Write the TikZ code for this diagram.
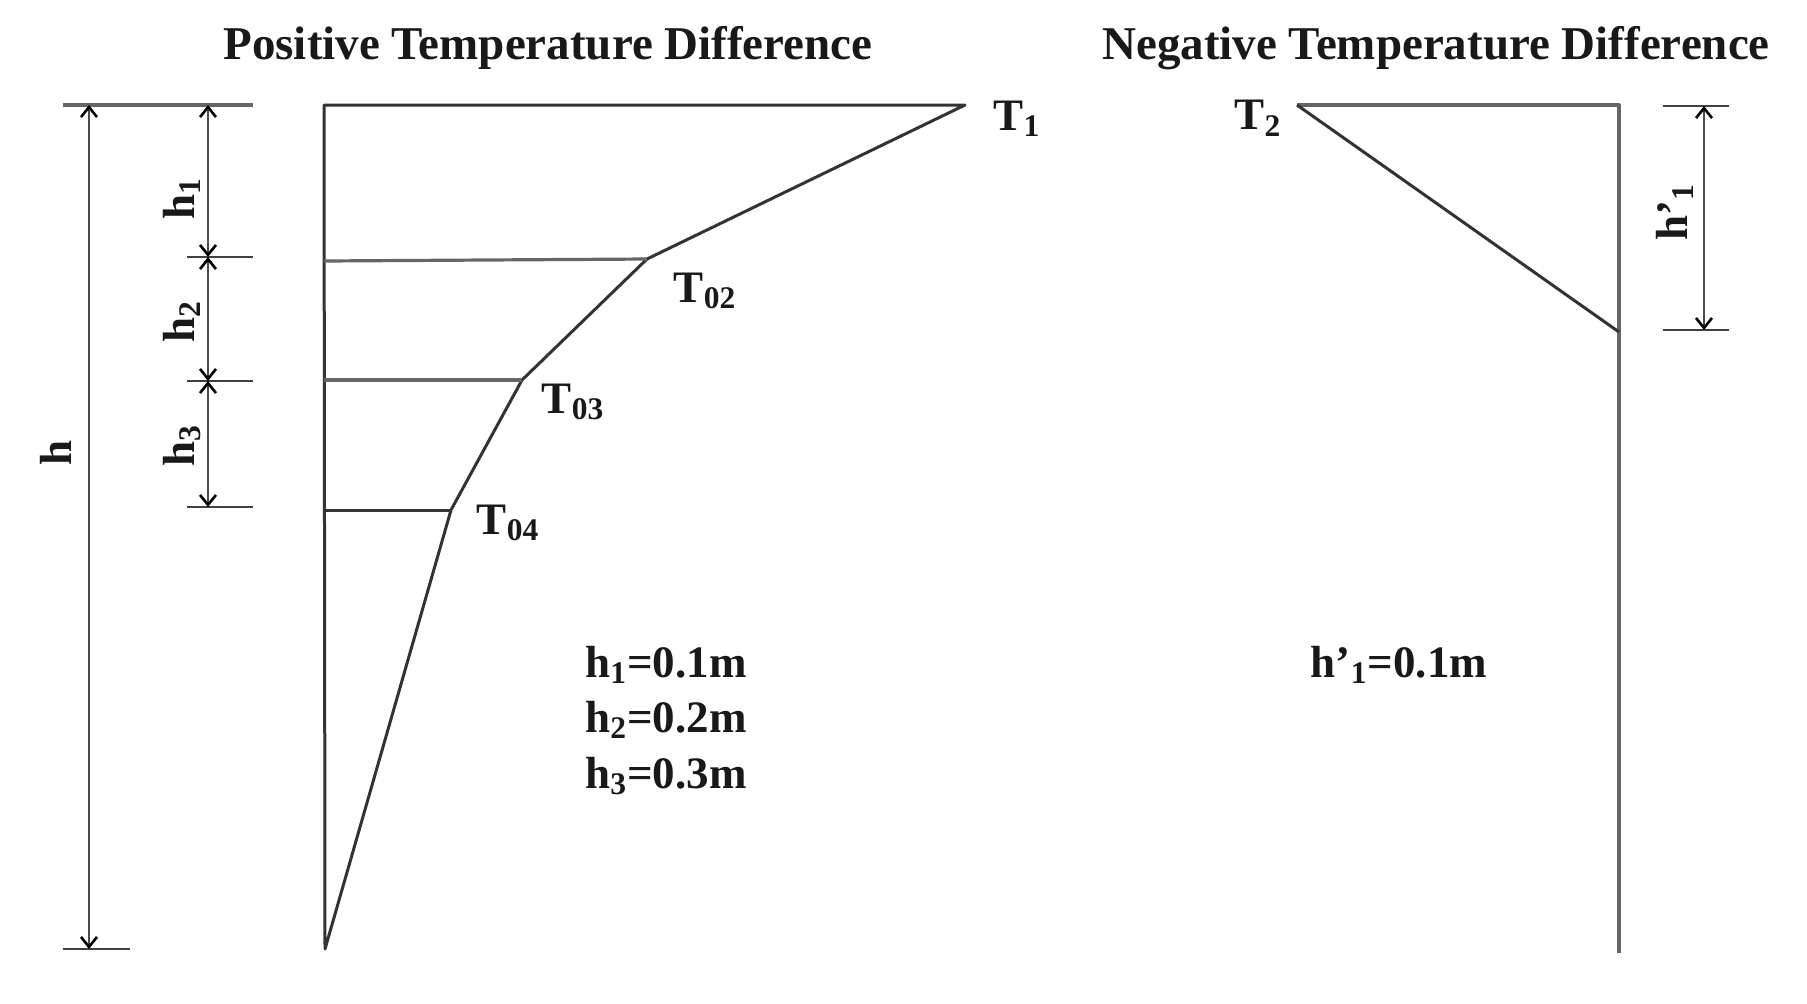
\documentclass[tikz,border=0pt]{standalone}
\usepackage{fontspec}
\setmainfont{Liberation Serif}
\usetikzlibrary{arrows.meta}
\tikzset{
 x=0.5pt,y=-0.5pt,
 ln/.style={draw=black!80,line width=1.5pt,line join=round},
 gln/.style={draw=black!60,line width=1.6pt,line join=round},
 thin ln/.style={draw=black!75,line width=1.3pt},
 dim/.style={draw=black!70,line width=1.3pt,{Straight Barb[length=5pt,width=8pt,line width=1.3pt,color=black]}-{Straight Barb[length=5pt,width=8pt,line width=1.3pt,color=black]}},
 ttl/.style={font=\fontsize{23.5}{28}\selectfont\bfseries,inner sep=0pt,text=black!90},
 lab/.style={font=\fontsize{22.5}{26}\selectfont\bfseries,inner sep=0pt,text=black!90},
 rlab/.style={lab,rotate=90},
}
\begin{document}
\begin{tikzpicture}
\useasboundingbox (0,0) rectangle (1807,1003);
\fill[white] (0,0) rectangle (1807,1003);
% titles
\node[ttl] (t1) at (548,48) {Positive Temperature Difference};
\node[ttl] (t2) at (1436,48) {Negative Temperature Difference};
% left profile
\coordinate (A) at (324,105);
\coordinate (T1p) at (965,105);
\coordinate (B) at (647,259);
\coordinate (Bl) at (324,261);
\coordinate (C) at (522,380);
\coordinate (Cl) at (324,380);
\coordinate (D) at (451,510);
\coordinate (Dl) at (324,510);
\coordinate (E) at (325,949);
\draw[ln] (A) -- (E) -- (D) -- (C) -- (B) -- (T1p) -- cycle;
\draw[gln] (Bl) -- (B);
\draw[gln] (Cl) -- (C);
\draw[ln] (Dl) -- (D);
% ticks left
\coordinate (tl0) at (63,105); \coordinate (tr0) at (253,105);
\coordinate (tl1) at (187,257); \coordinate (tr1) at (253,257);
\coordinate (tl2) at (187,381); \coordinate (tr2) at (253,381);
\coordinate (tl3) at (187,507); \coordinate (tr3) at (253,507);
\coordinate (tl4) at (63,949); \coordinate (tr4) at (130,949);
\draw[gln] (tl0) -- (tr0);
\foreach \i in {1,2,3} \draw[thin ln] (tl\i) -- (tr\i);
\draw[thin ln] (tl4) -- (tr4);
% dims
\coordinate (a0) at (89,105); \coordinate (a4) at (89,949);
\draw[dim] (a0) -- (a4);
\coordinate (b0) at (208,105); \coordinate (b1) at (208,257);
\coordinate (b2) at (208,381); \coordinate (b3) at (208,507);
\draw[dim] (b0) -- (b1);
\draw[dim] (b1) -- (b2);
\draw[dim] (b2) -- (b3);
% right profile
\coordinate (R0) at (1297,105);
\coordinate (R1) at (1619,105);
\coordinate (R2) at (1619,332);
\coordinate (R3) at (1619,953);
\draw[gln] (R0) -- (R1) -- (R3);
\draw[ln] (R0) -- (R2);
\coordinate (q1) at (1663,106); \coordinate (q2) at (1729,106);
\coordinate (q3) at (1663,330); \coordinate (q4) at (1729,330);
\coordinate (d1) at (1704,106); \coordinate (d2) at (1704,330);
\draw[thin ln] (q1) -- (q2);
\draw[thin ln] (q3) -- (q4);
\draw[dim] (d1) -- (d2);
% labels
\node[lab] (lT1) at (1017,119) {T\textsubscript{1}};
\node[lab] (lT2) at (1258,118) {T\textsubscript{2}};
\node[lab] (lT02) at (705,291) {T\textsubscript{02}};
\node[lab] (lT03) at (573,402) {T\textsubscript{03}};
\node[lab] (lT04) at (508,523) {T\textsubscript{04}};
\node[rlab] (lh) at (56,453) {h};
\node[rlab] (lh1) at (182,199) {h\textsubscript{1}};
\node[rlab] (lh2) at (182,322) {h\textsubscript{2}};
\node[rlab] (lh3) at (182,446) {h\textsubscript{3}};
\node[rlab] (lhp) at (1675,212) {h’\textsubscript{1}};
\node[lab] (v1) at (666,665) {h\textsubscript{1}=0.1m};
\node[lab] (v2) at (666,720) {h\textsubscript{2}=0.2m};
\node[lab] (v3) at (666,776) {h\textsubscript{3}=0.3m};
\node[lab] (v4) at (1399,665) {h’\textsubscript{1}=0.1m};
\end{tikzpicture}
\end{document}
